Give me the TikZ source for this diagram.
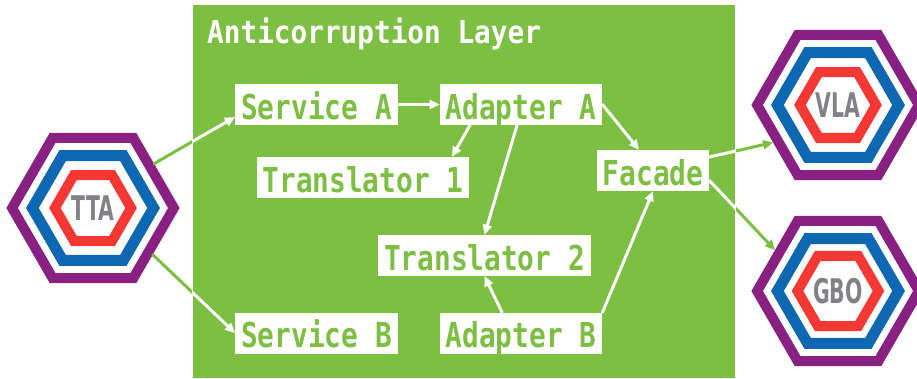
\documentclass[tikz,border=0pt]{standalone}
\usepackage{fontspec}
\usetikzlibrary{arrows.meta,shapes.geometric}
\newfontfamily\boxfont[FakeStretch=0.81]{DejaVu Sans Mono}
\newfontfamily\titlefont[FakeStretch=0.88]{DejaVu Sans Mono}
\newfontfamily\logofont[FakeStretch=0.6]{DejaVu Sans}
\definecolor{aclgreen}{RGB}{125,191,66}
\definecolor{hexpurple}{RGB}{137,33,130}
\definecolor{hexblue}{RGB}{14,103,177}
\definecolor{hexred}{RGB}{245,56,52}
\definecolor{logogray}{RGB}{128,130,134}
\begin{document}
\begin{tikzpicture}[x=1pt,y=-1pt, line join=round, line cap=round, >={Triangle[length=10pt,width=9pt]}]
	\tikzset{box/.style={fill=white,text=aclgreen,inner xsep=6pt,inner ysep=0pt,text height=35pt,text depth=6pt,font=\boxfont\bfseries\fontsize{34.3}{40}\selectfont},
		ring/.style={regular polygon,regular polygon sides=6,inner sep=0pt,line join=miter,line width=#1},
		link/.style={->,white,line width=3pt},
		outlink/.style={->,aclgreen,line width=3pt}}
	\useasboundingbox (0,0) rectangle (917,378);
	\fill[aclgreen] (193,5) rectangle (735,378);
	\node[anchor=base west,inner sep=0pt,text=white,font=\titlefont\bfseries\fontsize{31.5}{36}\selectfont] (title) at (207,43) {Anticorruption Layer};
	% systems around the layer
	\foreach \n/\x/\y/\t in {tta/93/208/TTA,vla/838/105/VLA,gbo/838/291/GBO}{
		\node[ring=10pt,draw=hexpurple,minimum size=161.7pt] (\n) at (\x,\y) {};
		\node[ring=11pt,draw=hexblue,minimum size=121.2pt] at (\x,\y) {};
		\node[ring=10pt,draw=hexred,minimum size=76.2pt,text=logogray,font=\logofont\bfseries\fontsize{34}{40}\selectfont] at (\x,\y) {\t};
	}
	\node[box] (sa) at (316.5,104.5) {Service A};
	\node[box] (aa) at (521,104.5) {Adapter A};
	\node[box] (t1) at (363,177.5) {Translator 1};
	\node[box] (fa) at (653,170.5) {Facade};
	\node[box] (t2) at (484.5,255.5) {Translator 2};
	\node[box] (sb) at (316.5,333) {Service B};
	\node[box] (ab) at (521,333) {Adapter B};
	\draw[link] (sa) -- (aa);
	\draw[link] ([xshift=-51pt]aa.south) -- ([xshift=89pt]t1.north);
	\draw[link] ([xshift=-4pt]aa.south) -- (t2.north);
	\draw[link] ([xshift=-19pt]ab.north) -- (t2.south);
	\draw[link] (ab.north east) -- (fa.south);
	\draw[link] (aa.east) -- ([xshift=-14pt]fa.north);
	% white inside the layer, green outside
	\begin{scope}
		\clip (193,0) rectangle (735,378);
		\draw[link] (tta.36) -- ([yshift=-12.5pt]sa.west);
		\draw[link] (tta.-38) -- (sb.west);
		\draw[link] ([yshift=13.5pt]fa.east) -- (vla.210);
		\draw[link] ([yshift=-10pt]fa.east) -- (gbo.147);
	\end{scope}
	\begin{scope}
		\clip (0,0) rectangle (192,378) (736,0) rectangle (917,378);
		\draw[outlink] (tta.36) -- ([yshift=-12.5pt]sa.west);
		\draw[outlink] (tta.-38) -- (sb.west);
		\draw[outlink] ([yshift=13.5pt]fa.east) -- (vla.210);
		\draw[outlink] ([yshift=-10pt]fa.east) -- (gbo.147);
	\end{scope}
\end{tikzpicture}
\end{document}
